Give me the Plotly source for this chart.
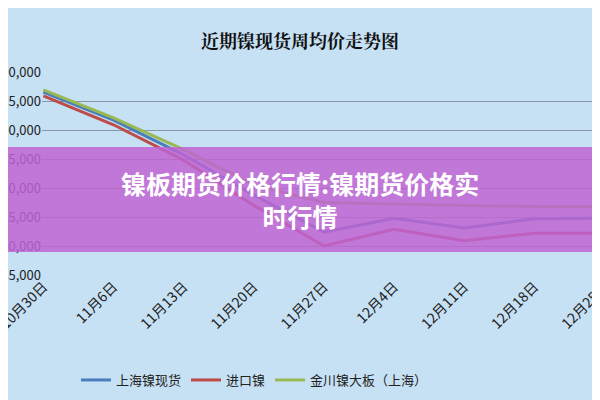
import plotly.graph_objects as go

dates = ["10月30日","11月6日","11月13日","11月20日","11月27日","12月4日","12月11日","12月18日","12月25日"]
shanghai = [96550, 91700, 85700, 78800, 72400, 74800, 73100, 74700, 74800]
jinkou = [95900, 90900, 84800, 77000, 70000, 72900, 70900, 72200, 72200]
jinchuan = [96900, 92100, 86600, 80500, 77500, 77200, 77000, 76800, 76800]
yticks = [65000, 70000, 75000, 80000, 85000, 90000, 95000, 100000]
ylabels = ["65,000","70,000","75,000","80,000","85,000","90,000","95,000","100,000"]

OFF = 8
T, B, L = 72 - OFF, 125 + OFF, 42 - OFF
PH = 400 - T - B
def py(y):
    return (400 - B - (y - OFF)) / PH

fig = go.Figure()
fig.add_trace(go.Scatter(x=dates, y=shanghai, name="上海镍现货", mode="lines", line=dict(color="#4A7EBB", width=3)))
fig.add_trace(go.Scatter(x=dates, y=jinkou, name="进口镍", mode="lines", line=dict(color="#BE4B48", width=3)))
fig.add_trace(go.Scatter(x=dates, y=jinchuan, name="金川镍大板（上海）", mode="lines", line=dict(color="#98B954", width=3)))

fig.update_layout(
    width=600, height=400,
    paper_bgcolor="#C6E0F4", plot_bgcolor="#C6E0F4",
    margin=dict(l=L, r=0, t=T, b=B),
    font=dict(family="Noto Sans CJK SC", size=12, color="#222"),
    title=dict(text="<b>近期镍现货周均价走势图</b>", x=(300 - OFF) / 600, y=1 - (42 - OFF) / 400,
               xanchor="center", yanchor="middle",
               font=dict(size=18, family="Noto Serif CJK SC, Noto Sans CJK SC", color="#111")),
    xaxis=dict(tickangle=-45, showgrid=False, showline=False, ticks="", range=[-0.02, 8.05],
               tickfont=dict(size=14), automargin=False),
    yaxis=dict(range=[65000, 100000], tickvals=yticks, ticktext=ylabels, gridcolor="#8A96A3",
               gridwidth=1, zeroline=False, tickfont=dict(size=13), automargin=False),
    legend=dict(orientation="h", x=0.06, y=py(380), xanchor="left", yanchor="middle",
                font=dict(size=13), bgcolor="rgba(0,0,0,0)"),
)
fig.add_shape(type="rect", xref="paper", yref="paper", x0=-0.1, x1=1.1,
              y0=py(252), y1=py(147), layer="above", line_width=0,
              fillcolor="rgba(190,100,210,0.85)")
fig.add_annotation(text="<b>镍板期货价格行情:镍期货价格实<br>时行情</b>", xref="paper", yref="paper",
                   x=(300 - OFF - L) / (600 - L), y=py(199), showarrow=False,
                   font=dict(size=25, color="white", family="Noto Sans CJK SC"),
                   align="center")
fig.write_html("out.html")
